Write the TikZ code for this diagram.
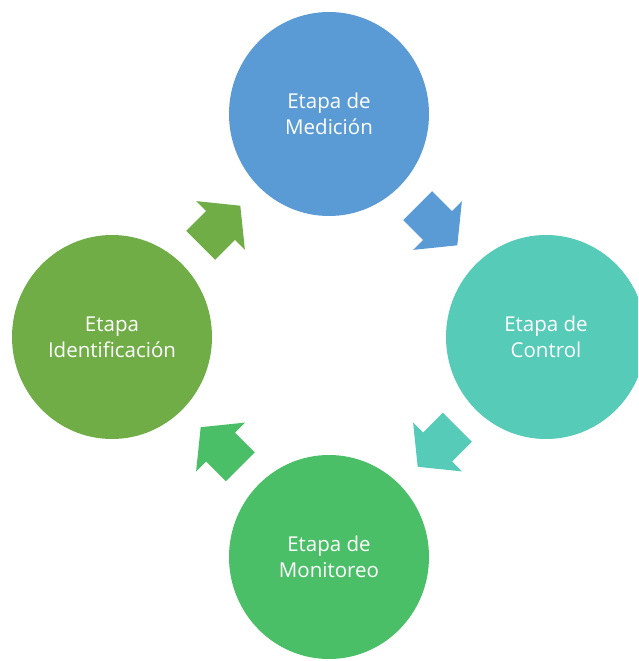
\documentclass[tikz,border=0pt]{standalone}
\usepackage{fontspec}
\setmainfont{Open Sans}
\usetikzlibrary{shapes.geometric,calc}
\definecolor{cblue}{HTML}{5B9BD5}
\definecolor{cteal}{HTML}{55CBB8}
\definecolor{cgreen}{HTML}{4ABF67}
\definecolor{colive}{HTML}{70AD47}
\tikzset{
  stage/.style={ellipse, minimum width=200pt, minimum height=204pt, inner sep=0pt,
    text=white, align=center, font=\fontsize{20.5}{26}\selectfont},
}
\newcommand{\blockarrow}[4]{% from, to, angle, colour
  \fill[#4, shift={($(#1)!0.5!(#2)$)}, rotate=#3]
    (-28pt,-20.5pt) -- (0pt,-20.5pt) -- (0pt,-34.5pt) -- (28pt,0pt)
    -- (0pt,34.5pt) -- (0pt,20.5pt) -- (-28pt,20.5pt) -- cycle;}
\begin{document}
\begin{tikzpicture}[x=1pt,y=-1pt]
\useasboundingbox (0,0) rectangle (638,661);
\clip (0,0) rectangle (638,661);
\fill[white] (0,0) rectangle (638,661);
\node[stage, fill=cblue]  (med) at (329,114) {Etapa de\\Medición};
\node[stage, fill=cteal]  (con) at (546,337) {Etapa de\\Control};
\node[stage, fill=cgreen] (mon) at (329,557) {Etapa de\\Monitoreo};
\node[stage, fill=colive] (ide) at (112,337) {Etapa\\Identificación};
\blockarrow{med}{con}{-45}{cblue}
\blockarrow{con}{mon}{-135}{cteal}
\blockarrow{mon}{ide}{135}{cgreen}
\blockarrow{ide}{med}{45}{colive}
\end{tikzpicture}
\end{document}
